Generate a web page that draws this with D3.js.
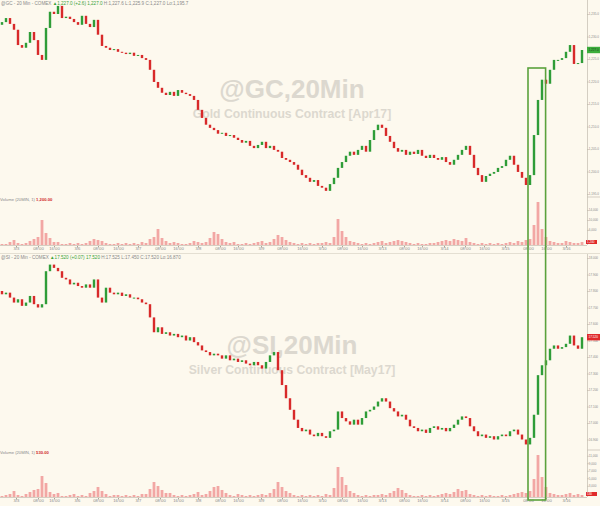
<!DOCTYPE html>
<html><head><meta charset="utf-8">
<script src="https://cdn.jsdelivr.net/npm/d3@7"></script>
<style>html,body{margin:0;padding:0;background:#fdf9ee;} svg{display:block;}</style>
</head><body>
<svg id="c" width="600" height="506"></svg>
<script>
// ---------- DATA ----------
const goldClose = [1233.2,1234.1,1232.8,1231.5,1228.1,1227.5,1228.6,1231.0,1229.2,1225.9,
1224.8,1231.9,1235.5,1235.0,1236.8,1234.1,1234.4,1233.9,1233.2,1232.6,
1234.6,1232.8,1232.1,1233.7,1230.4,1227.9,1227.5,1227.0,1227.2,1226.6,
1226.4,1226.1,1226.4,1225.7,1225.9,1225.2,1224.8,1222.6,1219.9,1218.6,
1217.5,1217.0,1217.7,1216.8,1218.1,1217.5,1217.2,1216.8,1215.9,1213.7,
1211.9,1210.4,1209.7,1209.2,1208.4,1208.6,1207.9,1208.1,1207.5,1207.0,
1206.4,1206.8,1205.7,1205.2,1205.9,1206.6,1205.2,1205.7,1204.8,1204.4,
1203.0,1202.6,1202.1,1201.5,1200.4,1199.2,1198.6,1197.7,1198.1,1196.8,
1196.4,1195.7,1197.2,1198.6,1200.8,1202.1,1203.5,1204.4,1203.7,1204.8,
1205.7,1204.4,1207.0,1209.2,1210.4,1209.7,1207.9,1206.6,1205.2,1204.4,
1204.8,1203.7,1204.4,1203.9,1204.8,1203.5,1203.0,1203.7,1203.0,1202.6,
1203.2,1202.1,1201.5,1202.6,1203.7,1204.8,1205.7,1203.7,1200.8,1199.2,
1197.7,1199.0,1199.5,1199.9,1200.8,1201.2,1202.6,1203.5,1201.5,1199.9,
1198.6,1197.0,1199.2,1208.1,1215.9,1220.4,1219.5,1222.6,1224.8,1224.8,
1225.2,1226.6,1228.1,1223.9,1224.1,1227.0];
const goldOpen0 = 1232.6;
const goldVolume = [400,400,1200,2000,800,400,800,1600,2400,3200,
10000,4800,2800,1200,1200,400,400,800,400,800,
400,800,1600,2400,2000,1600,800,400,400,800,
400,800,400,800,400,1200,800,2400,3200,6400,
2800,1600,800,1200,800,400,400,800,1600,1200,
800,1200,2800,5200,4400,2400,1200,800,1200,400,
400,800,400,800,1200,1600,800,1200,2400,4000,
3200,2000,1200,800,400,800,400,800,400,800,
800,1200,800,3200,10400,5600,3200,1600,1200,800,
400,800,400,800,1200,1600,800,1200,1600,2000,
1600,1200,800,400,800,400,400,800,800,1200,
1600,2000,1600,2400,2000,1600,2800,1200,800,400,
800,400,800,400,800,400,800,1200,800,1600,
1200,2000,2400,8000,17200,6400,3200,1600,1200,800,
800,1600,1200,800,800,1200];
const silverClose = [17.78,17.79,17.76,17.73,17.75,17.71,17.73,17.77,17.72,17.70,
17.72,17.92,17.96,17.94,17.92,17.88,17.87,17.84,17.85,17.83,
17.82,17.84,17.82,17.87,17.76,17.73,17.82,17.79,17.78,17.79,
17.77,17.78,17.76,17.76,17.75,17.73,17.72,17.64,17.55,17.58,
17.54,17.55,17.53,17.54,17.52,17.53,17.50,17.52,17.49,17.47,
17.44,17.43,17.41,17.42,17.41,17.39,17.41,17.38,17.39,17.37,
17.38,17.36,17.35,17.37,17.35,17.33,17.37,17.41,17.43,17.32,
17.23,17.15,17.08,17.02,16.97,16.95,16.96,16.93,16.92,16.94,
16.92,16.91,16.95,16.96,17.07,17.03,17.01,16.99,17.02,16.99,
17.03,17.07,17.08,17.10,17.13,17.15,17.13,17.09,17.07,17.04,
17.05,17.02,16.98,16.97,16.95,16.96,16.94,16.97,16.98,16.96,
16.97,16.95,16.97,16.99,17.02,17.04,17.03,16.98,16.95,16.92,
16.93,16.91,16.92,16.90,16.92,16.93,16.92,16.95,16.96,16.93,
16.90,16.87,16.91,17.05,17.29,17.35,17.38,17.45,17.47,17.45,
17.46,17.48,17.53,17.47,17.45,17.52];
const silverOpen0 = 17.80;
const silverVolume = [270,530,800,1600,530,270,800,1330,1870,2130,
5600,3730,1330,800,1070,270,270,530,800,270,
530,270,1070,1600,2670,1600,800,270,530,530,
270,530,270,530,270,800,800,2130,4000,2930,
1870,1070,1070,530,270,530,270,530,800,1330,
530,800,1600,2670,2930,1870,1070,530,270,800,
530,270,530,270,530,800,530,1070,2130,4000,
2670,1600,1070,530,270,530,270,530,270,530,
270,800,530,2400,8000,5330,3200,1600,1070,530,
270,530,270,530,530,800,530,1070,1600,2400,
1870,1070,530,270,270,530,270,530,270,530,
800,1070,800,1330,2130,1600,1870,800,530,270,
530,270,530,270,270,530,270,530,800,1070,
1330,1070,1600,4800,11200,5330,2670,1070,800,530,
530,800,1070,530,800,530];
const tickIdx = [3.5,9,13,18.75,24,29,34,39.5,44,49,54.5,59,64.75,70,75,80,85,90,95,100.5,105,110.5,115.75,120.5,125.75,131.5,136,141];
const tickLabels = ["3/3","08:00","16:00","3/6","08:00","16:00","3/7","08:00","16:00","3/8","08:00","16:00","3/9","08:00","16:00","3/10","08:00","16:00","3/13","08:00","16:00","3/14","08:00","16:00","3/15","08:00","16:00","3/16"];
const goldPriceTicks = [1235,1230,1225,1220,1215,1210,1205,1200,1195];
const goldVolTicks = [6000,10000,14000];
const silverPriceTicks = [18.0,17.9,17.8,17.7,17.6,17.5,17.4,17.3,17.2,17.1,17.0,16.9];
const silverVolTicks = [3000,5000,7000,9000,11000];
const highlightRange = [132, 136];

// ---------- DRAW ----------
const W = 600, H = 506, AX = 587;
const FONT = "'Liberation Sans', Arial, sans-serif";
const svg = d3.select("#c");
svg.append("rect").attr("width", W).attr("height", H).attr("fill", "#fdf9ee");

const N = goldClose.length;
const x = d3.scaleBand().domain(d3.range(N)).range([0, 584]).paddingInner(0.4).paddingOuter(0.2);
const bw = x.bandwidth();
const xi = d3.scaleLinear().domain([0, N - 1]).range([x(0) + bw / 2, x(N - 1) + bw / 2]);

const panels = [
  { close: goldClose, open0: goldOpen0, vol: goldVolume,
    priceDomain: [1235, 1195], priceRange: [14, 194], priceTicks: goldPriceTicks, pfmt: d3.format(",.1f"),
    volDomain: [0, 16000], volRange: [245, 205], volTicks: goldVolTicks,
    top: 0, bottom: 253, sepY: 197, volLabelY: 201,
    hdr: [["@GC - 20 Min - COMEX  ", "#8a8a8a"], ["\u25B21,227.0 (+2.6)  1,227.0 ", "#3aa23a"], [" H:1,227.6  L:1,225.9  C:1,227.0  ", "#8a8a8a"], ["Lo:1,195.7", "#8a8a8a"]],
    volText: [["Volume (20MIN, 1)  ", "#8a8a8a"], ["1,200.00", "#d02828"]],
    title: "@GC,20Min", subtitle: "Gold Continuous Contract [Apr17]", titleY: 98, subY: 118,
    tagColor: "#3cae3c", tagText: "#1d3d1d" },
  { close: silverClose, open0: silverOpen0, vol: silverVolume,
    priceDomain: [18.0, 16.9], priceRange: [258, 439.5], priceTicks: silverPriceTicks, pfmt: d3.format(",.3f"),
    volDomain: [0, 12000], volRange: [497, 452], volTicks: silverVolTicks,
    top: 254, bottom: 506, sepY: 450, volLabelY: 454,
    hdr: [["@SI - 20 Min - COMEX  ", "#8a8a8a"], ["\u25B217.520 (+0.07)  17.520 ", "#3aa23a"], [" H:17.525  L:17.450  C:17.520  ", "#8a8a8a"], ["Lo:16.870", "#8a8a8a"]],
    volText: [["Volume (20MIN, 1)  ", "#8a8a8a"], ["530.00", "#d02828"]],
    title: "@SI,20Min", subtitle: "Silver Continuous Contract [May17]", titleY: 354, subY: 374,
    tagColor: "#e02a2a", tagText: "#ffffff" }
];

panels.forEach(p => {
  const g = svg.append("g");
  const y = d3.scaleLinear().domain(p.priceDomain).range(p.priceRange);
  const yv = d3.scaleLinear().domain(p.volDomain).range(p.volRange);
  const opens = [p.open0].concat(p.close.slice(0, -1));
  const data = p.close.map((c, i) => ({ i, o: opens[i], c, v: p.vol[i] }));

  // watermark
  g.append("text").attr("x", 292).attr("y", p.titleY).attr("text-anchor", "middle")
    .attr("font-family", FONT).attr("font-weight", "bold").attr("font-size", 26)
    .attr("fill", "#dcd8cf").text(p.title);
  g.append("text").attr("x", 292).attr("y", p.subY).attr("text-anchor", "middle")
    .attr("font-family", FONT).attr("font-weight", "bold").attr("font-size", 12.2)
    .attr("fill", "#dcd8cf").text(p.subtitle);

  // header
  const h = g.append("text").attr("x", 1).attr("y", p.top + 5).attr("font-family", FONT).attr("font-size", 4.6);
  p.hdr.forEach(([t, col]) => h.append("tspan").attr("fill", col).text(t));
  const vl = g.append("text").attr("x", 0).attr("y", p.volLabelY).attr("font-family", FONT).attr("font-size", 4.2);
  p.volText.forEach(([t, col]) => vl.append("tspan").attr("fill", col).attr("font-weight", col === "#d02828" ? "bold" : "normal").text(t));

  // volume bars
  g.append("g").selectAll("rect").data(data).join("rect")
    .attr("x", d => x(d.i) - 0.2).attr("width", bw + 0.4)
    .attr("y", d => yv(d.v)).attr("height", d => yv(0) - yv(d.v))
    .attr("fill", "#f2a7a4");
  g.append("line").attr("x1", 0).attr("x2", AX).attr("y1", yv(0) + 0.5).attr("y2", yv(0) + 0.5)
    .attr("stroke", "#c9c3b6").attr("stroke-width", 0.8);

  // candles
  g.append("g").selectAll("rect").data(data).join("rect")
    .attr("x", d => x(d.i)).attr("width", bw)
    .attr("y", d => Math.min(y(d.o), y(d.c)))
    .attr("height", d => Math.max(1, Math.abs(y(d.o) - y(d.c))))
    .attr("fill", d => d.c >= d.o ? "#2f9d38" : "#d82a2a");

  // right price axis
  const ay = g.append("g").attr("transform", `translate(${AX},0)`)
    .call(d3.axisRight(y).tickValues(p.priceTicks).tickSize(1.5).tickFormat(p.pfmt));
  const av = g.append("g").attr("transform", `translate(${AX},0)`)
    .call(d3.axisRight(yv).tickValues(p.volTicks).tickSize(1.5).tickFormat(d3.format(",")));
  [ay, av].forEach(a => {
    a.select(".domain").remove();
    a.selectAll("line").attr("stroke", "#b5b0a6");
    a.selectAll("text").attr("font-family", FONT).attr("font-size", 3.0).attr("fill", "#8a8a8a").attr("x", 1.8);
  });
  g.append("line").attr("x1", AX + 0.5).attr("x2", AX + 0.5).attr("y1", p.top).attr("y2", yv(0))
    .attr("stroke", "#c9c3b6").attr("stroke-width", 0.8);
  g.append("line").attr("x1", AX).attr("x2", W).attr("y1", p.sepY).attr("y2", p.sepY)
    .attr("stroke", "#c9c3b6").attr("stroke-width", 0.8);

  // last price tag
  const last = data[N - 1];
  g.append("rect").attr("x", AX).attr("y", y(last.c) - 3.2).attr("width", W - AX).attr("height", 6.4).attr("fill", p.tagColor);
  g.append("text").attr("x", AX + 1.5).attr("y", y(last.c) + 1.1).attr("font-family", FONT).attr("font-size", 3.1)
    .attr("fill", p.tagText).text(p.pfmt(last.c));
  // last volume tag
  g.append("rect").attr("x", AX - 1).attr("y", yv(0) - 5).attr("width", 11).attr("height", 4).attr("fill", "#e02a2a");
  g.append("text").attr("x", AX).attr("y", yv(0) - 2).attr("font-family", FONT).attr("font-size", 3.0)
    .attr("fill", "#fff").text(d3.format(",")(last.v));

  // bottom time axis
  const ax = g.append("g").attr("transform", `translate(0,${yv(0) + 1})`)
    .call(d3.axisBottom(xi).tickValues(tickIdx).tickSize(1.5).tickFormat((d, k) => tickLabels[k]));
  ax.select(".domain").remove();
  ax.selectAll("line").attr("stroke", "#a9a398");
  ax.selectAll("text").attr("font-family", FONT).attr("font-size", 4.2).attr("fill", "#8a8a8a").attr("dy", "0.55em").attr("y", 2);
});

// panel separator
svg.append("line").attr("x1", 0).attr("x2", W).attr("y1", 253.5).attr("y2", 253.5).attr("stroke", "#e4dfd2").attr("stroke-width", 1);

// highlight box around the spike
svg.append("rect")
  .attr("x", x(highlightRange[0]) - 0.8).attr("y", 68)
  .attr("width", x(highlightRange[1]) - x(highlightRange[0]) + 1.6).attr("height", 432)
  .attr("fill", "none").attr("stroke", "#5aa23c").attr("stroke-width", 1.6);
</script>
</body></html>
